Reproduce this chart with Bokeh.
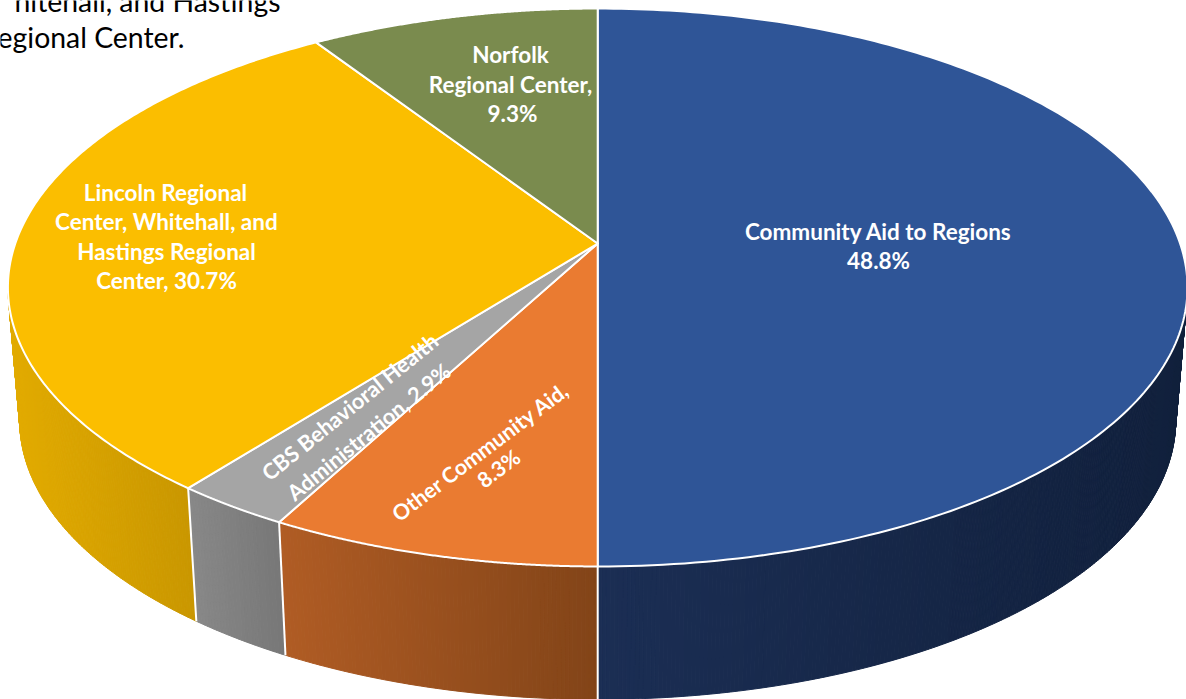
import numpy as np
from bokeh.core.properties import value
from bokeh.embed import file_html
from bokeh.models import Range1d
from bokeh.plotting import figure
from bokeh.resources import INLINE

# Budget shares in percent, clockwise from twelve o'clock
categories = [
    "Community Aid to Regions",
    "Other Community Aid",
    "CBS Behavioral Health Administration",
    "Lincoln Regional Center, Whitehall, and Hastings Regional Center",
    "Norfolk Regional Center",
]
shares = [48.8, 8.3, 2.9, 30.7, 9.3]
top_colors = ["#2F5597", "#EA7B31", "#A5A5A5", "#FBBE00", "#7A8B4E"]
wall_left = [(27, 46, 84), (176, 92, 36), (136, 136, 136), (226, 171, 0), (110, 125, 70)]
wall_right = [(17, 32, 60), (130, 68, 24), (118, 118, 118), (200, 150, 0), (100, 115, 60)]

# Disc projection: perspective ellipse with the hub above its geometric middle
CX, CY, RX, RY, PERSP = 597.2, 243.0, 582.4, 233.7, 0.1577
DEPTH, WALL_SHRINK = 133.0, 0.98
SKEW_A, SKEW_B = np.radians(1.56), np.radians(0.38)


def skew(theta):
    # Small angular correction of the projection over the left half of the disc
    phi = theta - np.pi
    return theta - (SKEW_A * np.sin(phi) + SKEW_B * np.sin(2 * phi)) * (phi > 0)


def rim(theta):
    sx, sy = np.sin(theta), np.cos(theta)
    d = 1 + PERSP * sy
    return CX + RX * sx / d, (CY - RY * sy) / d


def floor(theta):
    x, y = rim(theta)
    return CX + WALL_SHRINK * (x - CX), y + DEPTH


# The largest sector fills the front half of the disc; the other sectors
# divide the remaining half in proportion to their shares.
rest = sum(shares[1:])
spans = [np.pi] + [np.pi * s / rest for s in shares[1:]]
edges = skew(np.concatenate([[0.0], np.cumsum(spans)]))

p = figure(
    width=1186, height=699, output_backend="svg", toolbar_location=None,
    x_range=Range1d(0, 1186), y_range=Range1d(699, 0),
    min_border=0, outline_line_color=None,
)
p.axis.visible = False
p.grid.visible = False

# Outer wall: thin strips shaded from left to right within each sector
WALL_START, WALL_END = np.arccos(-PERSP), 2 * np.pi - np.arccos(-PERSP)
for i in range(len(shares)):
    a, b = max(edges[i], WALL_START), min(edges[i + 1], WALL_END)
    if b <= a:
        continue
    n = max(int((b - a) / 0.006), 2)
    t = np.linspace(a, b, n + 1)
    tx, ty = rim(t)
    fx, fy = floor(t)
    xs, ys, cols = [], [], []
    left_x, right_x = min(tx.min(), fx.min()), max(tx.max(), fx.max())
    for j in range(n):
        xs.append([tx[j], tx[j + 1], fx[j + 1], fx[j]])
        ys.append([ty[j], ty[j + 1], fy[j + 1], fy[j]])
        f = ((tx[j] + tx[j + 1]) / 2 - left_x) / (right_x - left_x)
        c = [round(l + (r - l) * f) for l, r in zip(wall_left[i], wall_right[i])]
        cols.append("#%02x%02x%02x" % tuple(c))
    p.patches(xs, ys, fill_color=cols, line_color=cols, line_width=1)

# Dividers on the wall
for e in edges[1:4]:
    tx, ty = rim(e)
    fx, fy = floor(e)
    p.line([tx, fx], [ty, fy], line_color="white", line_width=2)

# Top face
for i in range(len(shares)):
    t = np.linspace(edges[i], edges[i + 1], 200)
    rx, ry = rim(t)
    p.patch(
        np.concatenate([[CX], rx]), np.concatenate([[CY], ry]),
        fill_color=top_colors[i], line_color="white", line_width=2, line_join="round",
    )


def label(lines, x, ys, angle=0.0, size="22.5px", style="bold", color="white", align="center"):
    rad = np.radians(angle)
    for text, (lx, ly) in zip(lines, zip(x, ys)):
        p.text([lx], [ly], text=[text], text_color=color, text_font=value("Lato"),
               text_font_size=size, text_font_style=style, text_align=align,
               text_baseline="middle", angle=rad)


label(["Community Aid to Regions", "48.8%"], [878, 878], [231, 260])
label(["Norfolk", "Regional Center,", "9.3%"], [510, 510, 512], [54, 84, 113])
label(["Lincoln Regional", "Center, Whitehall, and", "Hastings Regional", "Center, 30.7%"],
      [165, 166, 166, 166], [192, 221, 251, 280])
label(["CBS Behavioral Health", "Administration, 2.9%"], [349, 368], [406, 431], angle=39, size="21.8px")
label(["Other Community Aid,", "8.3%"], [480, 498], [451, 468], angle=37, size="21.4px")
label(["hitehall, and Hastings", "egional Center."], [280, 184], [0, 36],
      size="28.4px", style="normal", color="black", align="right")

open("out.html", "w").write(file_html(p, INLINE))
